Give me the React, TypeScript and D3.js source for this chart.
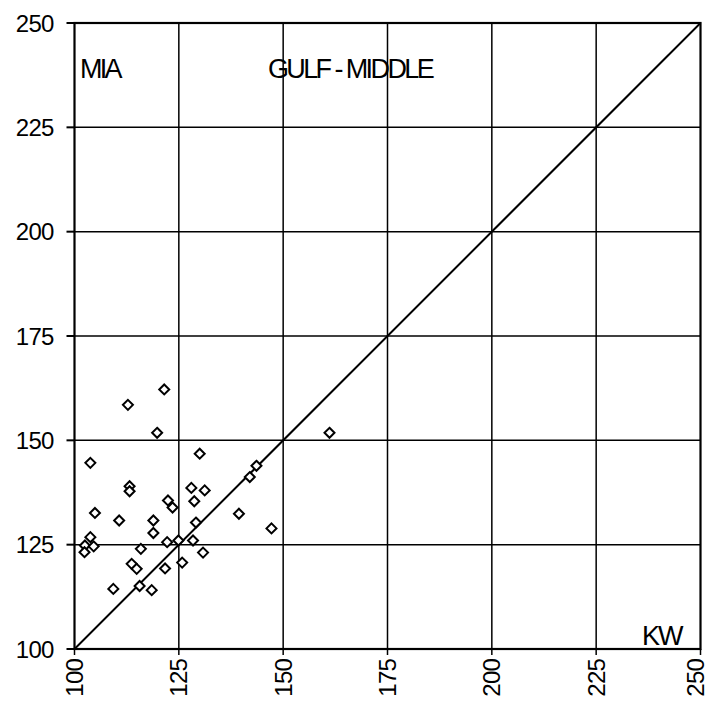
import React from "react";
import * as d3 from "d3";

// KW (x) versus MIA (y) readings, Gulf - Middle
const kwValues = [
  121.5, 112.8, 119.8, 130.0, 103.8, 113.2, 113.2, 128.0, 131.2, 122.4,
  123.5, 128.7, 104.9, 110.7, 118.9, 118.9, 129.1, 139.4, 147.2, 142.0,
  143.6, 103.8, 102.5, 104.6, 102.4, 122.2, 124.9, 128.4, 115.9, 130.8,
  113.7, 114.9, 121.7, 125.8, 109.3, 115.6, 118.5, 161.1,
];
const miaValues = [
  162.2, 158.5, 151.8, 146.8, 144.6, 139.0, 137.8, 138.6, 138.0, 135.6,
  133.9, 135.4, 132.6, 130.8, 130.8, 127.8, 130.3, 132.4, 128.9, 141.2,
  143.9, 126.8, 124.8, 124.6, 123.2, 125.6, 126.0, 126.0, 124.0, 123.1,
  120.4, 119.2, 119.3, 120.7, 114.4, 115.1, 114.1, 151.8,
];
const tickValues = [100, 125, 150, 175, 200, 225, 250];
const domain: [number, number] = [100, 250];
const title = "GULF - MIDDLE";
const xName = "KW";
const yName = "MIA";

const W = 707;
const H = 719;
const left = 74.5;
const right = 700.5;
const top = 23;
const bottom = 649;

export default function App() {
  const x = d3.scaleLinear().domain(domain).range([left, right]);
  const y = d3.scaleLinear().domain(domain).range([bottom, top]);
  const font = "'Liberation Sans', Arial, sans-serif";
  const pts = kwValues.map((v, i) => ({ kx: v, my: miaValues[i] }));
  const r = 5;

  return (
    <svg
      width={W}
      height={H}
      style={{ position: "absolute", left: 0, top: 0, background: "#fff" }}
      fontFamily={font}
    >
      <rect x={0} y={0} width={W} height={H} fill="#fff" />
      {/* grid */}
      {tickValues.slice(1, -1).map((t) => (
        <g key={"g" + t}>
          <line x1={x(t)} x2={x(t)} y1={top} y2={bottom} stroke="#000" strokeWidth={1.5} />
          <line x1={left} x2={right} y1={y(t)} y2={y(t)} stroke="#000" strokeWidth={1.5} />
        </g>
      ))}
      {/* frame */}
      <rect
        x={left}
        y={top}
        width={right - left}
        height={bottom - top}
        fill="none"
        stroke="#000"
        strokeWidth={2.2}
      />
      {/* ticks */}
      {tickValues.map((t) => (
        <g key={"t" + t}>
          <line x1={left - 8} x2={left} y1={y(t)} y2={y(t)} stroke="#000" strokeWidth={2} />
          <line x1={x(t)} x2={x(t)} y1={bottom} y2={bottom + 6} stroke="#000" strokeWidth={1.5} />
          <text
            x={left - 21}
            y={y(t)}
            textAnchor="end"
            dominantBaseline="central"
            fontSize={24}
            letterSpacing={-0.8}
            fill="#000"
          >
            {t}
          </text>
          <text
            transform={`translate(${Math.min(x(t), 695)},${bottom + 10}) rotate(-90)`}
            textAnchor="end"
            dominantBaseline="central"
            fontSize={24}
            letterSpacing={-0.8}
            fill="#000"
          >
            {t}
          </text>
        </g>
      ))}
      {/* 1:1 line */}
      <line
        x1={x(domain[0])}
        y1={y(domain[0])}
        x2={x(domain[1])}
        y2={y(domain[1])}
        stroke="#000"
        strokeWidth={2}
      />
      {/* points */}
      {pts.map((p, i) => {
        const cx = x(p.kx);
        const cy = y(p.my);
        return (
          <path
            key={i}
            d={`M${cx},${cy - r}L${cx + r},${cy}L${cx},${cy + r}L${cx - r},${cy}Z`}
            fill="#fff"
            stroke="#000"
            strokeWidth={2}
          />
        );
      })}
      {/* labels */}
      <text x={80} y={78} fontSize={27} fill="#000" letterSpacing={-2.8}>
        {yName}
      </text>
      <text x={350} y={78} fontSize={27} fill="#000" textAnchor="middle" letterSpacing={-2.6}>
        {title}
      </text>
      <text x={642} y={645} fontSize={27} fill="#000" letterSpacing={-2}>
        {xName}
      </text>
    </svg>
  );
}
